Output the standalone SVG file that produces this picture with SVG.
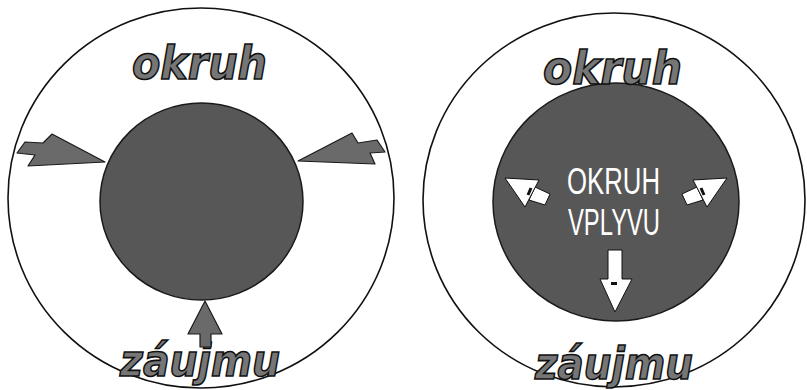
<svg xmlns="http://www.w3.org/2000/svg" width="807" height="390" viewBox="0 0 807 390">
<style>
.ring{fill:#fff;stroke:#111;stroke-width:1.6}
.core{fill:#575757;stroke:#1a1a1a;stroke-width:1.5}
.label{font-family:"DejaVu Sans","Liberation Sans",Arial,sans-serif;font-weight:bold;font-style:italic;fill:#767676;stroke:#111;stroke-width:1.6}
.inner{font-family:"Liberation Sans",Arial,sans-serif;font-weight:normal;fill:#fff}
.garrow{fill:#6a6a6a;stroke:#1a1a1a;stroke-width:1.2;stroke-linejoin:round}
.warrow{fill:#fff;stroke:#111;stroke-width:1;stroke-linejoin:miter}
.mark{stroke:#111;stroke-width:3}
</style>
<rect width="807" height="390" fill="#fff"/>
<g id="left-circle">
<ellipse class="ring" cx="201" cy="198" rx="193" ry="190"/>
<ellipse class="core" cx="201.5" cy="201.5" rx="101.5" ry="98.5"/>
<text class="label" x="132" y="79" font-size="46" textLength="135" lengthAdjust="spacingAndGlyphs">okruh</text>
<text class="label" x="120" y="376" font-size="44" textLength="160" lengthAdjust="spacingAndGlyphs">záujmu</text>
</g>
<g id="right-circle">
<ellipse class="ring" cx="614" cy="200" rx="191" ry="187"/>
<ellipse class="core" cx="616" cy="202" rx="123" ry="119"/>
<text class="label" x="543" y="84" font-size="46" textLength="139" lengthAdjust="spacingAndGlyphs">okruh</text>
<text class="label" x="535" y="379" font-size="44" textLength="158" lengthAdjust="spacingAndGlyphs">záujmu</text>
<text class="inner" x="567" y="194" font-size="36" textLength="93" lengthAdjust="spacingAndGlyphs">OKRUH</text>
<text class="inner" x="568" y="235" font-size="36" textLength="92" lengthAdjust="spacingAndGlyphs">VPLYVU</text>
</g>
<g id="connectors">
<polygon class="garrow" points="25,142 43,143 52,134 105,162 28,166 35,155 17,153"/>
<polygon class="garrow" points="298,161 352,133 358,143 377,140 385,152 370,153 375,164"/>
<polygon class="garrow" points="205,301 222,334 211,334 211,347 200,347 200,334 188,334"/>
<polygon class="warrow" points="535,187 550,194 545,205 529,200"/>
<polygon class="warrow" points="505,178 539,180 525,207"/>
<line class="mark" x1="531" y1="188" x2="528" y2="195"/>
<polygon class="warrow" points="697,187 682,194 687,205 703,200"/>
<polygon class="warrow" points="727,178 693,180 707,207"/>
<line class="mark" x1="701" y1="188" x2="704" y2="195"/>
<polygon class="warrow" points="608,250 622,250 622,279 632,279 615,312 600,279 608,279"/>
<rect x="611" y="282" width="6" height="3" fill="#111"/>
</g>
</svg>
